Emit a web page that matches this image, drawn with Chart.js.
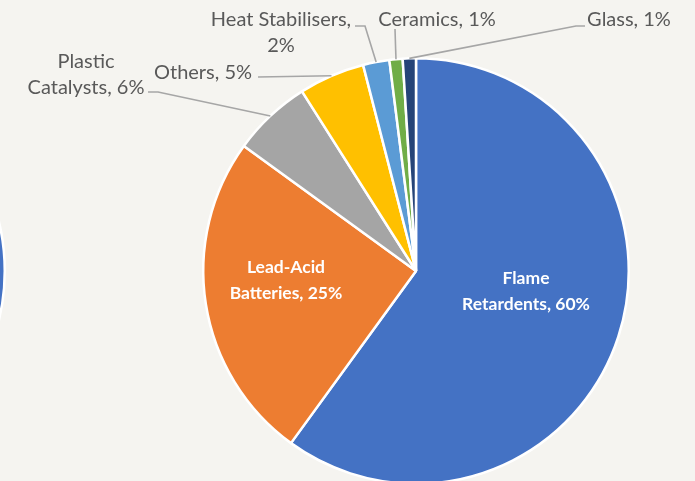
<!DOCTYPE html>
<html>
<head>
<meta charset="utf-8">
<script src="https://cdn.jsdelivr.net/npm/chart.js@4.4.1/dist/chart.umd.min.js"></script>
<style>
  html, body { margin: 0; padding: 0; background: #f5f4f0; overflow: hidden; }
  #wrap { position: relative; width: 695px; height: 481px; overflow: hidden; }
  #mainChart { position: absolute; left: 0; top: 0; }
  #ghostChart { position: absolute; left: -422px; top: 57px; }
</style>
</head>
<body>
<div id="wrap">
  <canvas id="ghostChart" width="428" height="428"></canvas>
  <canvas id="mainChart" width="695" height="530"></canvas>
</div>
<script>
// ── Data ───────────────────────────────────────────
const categories = [
    'Flame Retardents', 'Lead-Acid Batteries', 'Plastic Catalysts',
    'Others', 'Heat Stabilisers', 'Ceramics', 'Glass'
];
const shares = [60, 25, 6, 5, 2, 1, 1];
const colors = ['#4472c4', '#ed7d31', '#a5a5a5', '#ffc000', '#5b9bd5', '#70ad47', '#264478'];

// ── Label layout (text lines, centre of text, leader path) ──
const labelLayout = [
    { inside: true, lines: ['Flame', 'Retardents, 60%'], x: 526, y: 278 },
    { inside: true, lines: ['Lead-Acid', 'Batteries, 25%'], x: 286, y: 267 },
    { lines: ['Plastic', 'Catalysts, 6%'], x: 86, y: 62, leader: [[148, 92], [158, 92]] },
    { lines: ['Others, 5%'], x: 203, y: 73, leader: [[258, 77]] },
    { lines: ['Heat Stabilisers,', '2%'], x: 281, y: 20, leader: [[355, 26], [365, 26]] },
    { lines: ['Ceramics, 1%'], x: 437, y: 20, leader: [[395, 29]] },
    { lines: ['Glass, 1%'], x: 629, y: 20, leader: [[585, 26], [576, 26]] }
];
const lineGap = 26;

const pieLabels = {
    id: 'pieLabels',
    afterDatasetsDraw(chart) {
        const ctx = chart.ctx;
        const arcs = chart.getDatasetMeta(0).data;
        ctx.save();
        labelLayout.forEach((lab, i) => {
            const arc = arcs[i];
            if (!arc) return;
            if (lab.leader) {
                const mid = (arc.startAngle + arc.endAngle) / 2;
                const ex = arc.x + Math.cos(mid) * arc.outerRadius;
                const ey = arc.y + Math.sin(mid) * arc.outerRadius;
                ctx.strokeStyle = '#a6a6a6';
                ctx.lineWidth = 1.6;
                ctx.beginPath();
                ctx.moveTo(lab.leader[0][0], lab.leader[0][1]);
                lab.leader.slice(1).forEach(p => ctx.lineTo(p[0], p[1]));
                ctx.lineTo(ex, ey);
                ctx.stroke();
            }
            ctx.fillStyle = lab.inside ? '#ffffff' : '#595959';
            ctx.font = lab.inside ? 'bold 17.5px Lato, "Open Sans", sans-serif'
                                  : '20px Lato, "Open Sans", sans-serif';
            ctx.textAlign = 'center';
            ctx.textBaseline = 'middle';
            lab.lines.forEach((t, k) => ctx.fillText(t, lab.x, lab.y + k * lineGap));
        });
        ctx.restore();
    }
};

function pieConfig(padding, withLabels) {
    return {
        type: 'pie',
        data: {
            labels: categories,
            datasets: [{
                data: shares,
                backgroundColor: colors,
                borderColor: '#ffffff',
                borderWidth: 2.5,
            }]
        },
        options: {
            responsive: false,
            animation: false,
            layout: { padding: padding },
            plugins: {
                legend: { display: false },
                tooltip: { enabled: false }
            }
        },
        plugins: withLabels ? [pieLabels] : []
    };
}

new Chart(document.getElementById('mainChart'),
    pieConfig({ left: 202, top: 57, right: 65, bottom: 45 }, true));
new Chart(document.getElementById('ghostChart'),
    pieConfig(0, false));
</script>
</body>
</html>
